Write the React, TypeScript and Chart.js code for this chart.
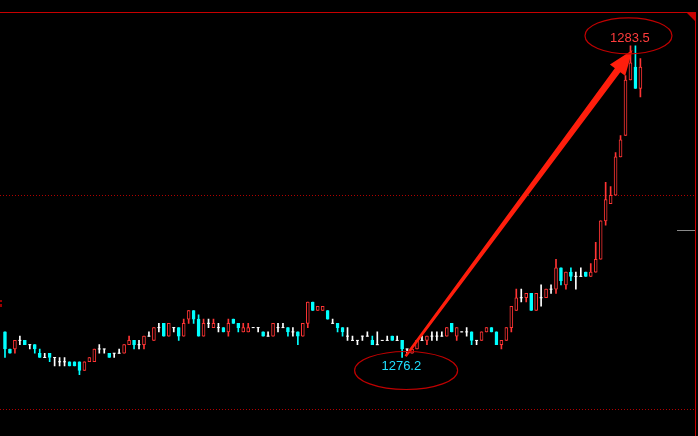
import React, { useEffect, useRef } from "react";
import { Chart, registerables } from "chart.js";

Chart.register(...registerables);

// OHLC values (one entry per candle, left to right)
const opens = [
  1276.8, 1276.4, 1276.4, 1276.6, 1276.6, 1276.5, 1276.5, 1276.3, 1276.2, 1276.3,
  1276.2, 1276.1, 1276.1, 1276.1, 1276.1, 1276.1, 1275.9, 1276.1, 1276.1, 1276.4,
  1276.4, 1276.3, 1276.3, 1276.3, 1276.3, 1276.5, 1276.6, 1276.5, 1276.5, 1276.7,
  1276.6, 1276.9, 1277.0, 1276.7, 1276.9, 1276.9, 1276.7, 1277.1, 1277.3, 1277.1,
  1276.7, 1277.0, 1276.9, 1276.9, 1276.9, 1276.8, 1277.1, 1277.0, 1276.8, 1276.8,
  1276.9, 1276.9, 1276.8, 1276.7, 1276.7, 1276.9, 1276.9, 1276.9, 1276.8, 1276.8,
  1276.7, 1277.0, 1277.5, 1277.3, 1277.3, 1277.3, 1277.0, 1277.0, 1276.9, 1276.7,
  1276.6, 1276.6, 1276.7, 1276.7, 1276.6, 1276.5, 1276.6, 1276.6, 1276.7, 1276.6,
  1276.6, 1276.4, 1276.3, 1276.4, 1276.6, 1276.6, 1276.7, 1276.7, 1276.7, 1276.7,
  1277.0, 1276.7, 1276.8, 1276.8, 1276.8, 1276.6, 1276.6, 1276.8, 1276.9, 1276.8,
  1276.5, 1276.6, 1276.9, 1277.3, 1277.6, 1277.6, 1277.7, 1277.3, 1277.6, 1277.6,
  1277.8, 1277.8, 1278.3, 1277.9, 1278.2, 1278.1, 1278.1, 1278.2, 1278.1, 1278.2,
  1278.5, 1279.4, 1279.8, 1280.0, 1280.9, 1281.4, 1282.7, 1283.0, 1282.5,
];
const highs = [
  1276.8, 1276.4, 1276.6, 1276.7, 1276.6, 1276.5, 1276.5, 1276.4, 1276.3, 1276.3,
  1276.2, 1276.2, 1276.2, 1276.1, 1276.1, 1276.1, 1276.1, 1276.2, 1276.4, 1276.5,
  1276.4, 1276.3, 1276.3, 1276.4, 1276.5, 1276.7, 1276.6, 1276.6, 1276.7, 1276.8,
  1276.9, 1277.0, 1277.0, 1277.0, 1276.9, 1276.9, 1277.1, 1277.3, 1277.3, 1277.2,
  1277.1, 1277.1, 1277.1, 1277.0, 1276.9, 1277.1, 1277.1, 1277.0, 1277.0, 1277.0,
  1276.9, 1276.9, 1276.8, 1276.8, 1277.0, 1277.0, 1277.0, 1276.9, 1276.9, 1276.8,
  1277.0, 1277.5, 1277.5, 1277.4, 1277.4, 1277.3, 1277.1, 1277.0, 1276.9, 1276.9,
  1276.7, 1276.6, 1276.7, 1276.8, 1276.7, 1276.8, 1276.6, 1276.7, 1276.7, 1276.7,
  1276.6, 1276.4, 1276.4, 1276.6, 1276.7, 1276.7, 1276.8, 1276.8, 1276.8, 1276.9,
  1277.0, 1276.9, 1276.8, 1276.9, 1276.8, 1276.6, 1276.8, 1276.9, 1276.9, 1276.8,
  1276.6, 1276.9, 1277.4, 1277.8, 1277.8, 1277.7, 1277.7, 1277.7, 1277.9, 1277.8,
  1277.9, 1278.5, 1278.3, 1278.2, 1278.3, 1278.2, 1278.3, 1278.2, 1278.4, 1278.9,
  1279.4, 1280.3, 1280.2, 1281.0, 1281.4, 1282.8, 1283.5, 1283.5, 1283.2,
];
const lows = [
  1276.2, 1276.3, 1276.3, 1276.5, 1276.5, 1276.4, 1276.3, 1276.2, 1276.2, 1276.1,
  1276.0, 1276.0, 1276.0, 1276.0, 1276.0, 1275.8, 1275.9, 1276.1, 1276.1, 1276.3,
  1276.3, 1276.2, 1276.2, 1276.3, 1276.3, 1276.5, 1276.4, 1276.4, 1276.4, 1276.7,
  1276.6, 1276.8, 1276.7, 1276.7, 1276.8, 1276.6, 1276.7, 1277.0, 1277.0, 1276.7,
  1276.7, 1276.9, 1276.9, 1276.8, 1276.8, 1276.7, 1277.0, 1276.8, 1276.8, 1276.8,
  1276.9, 1276.8, 1276.7, 1276.7, 1276.7, 1276.8, 1276.9, 1276.7, 1276.7, 1276.5,
  1276.7, 1276.9, 1277.3, 1277.3, 1277.3, 1277.1, 1277.0, 1276.8, 1276.7, 1276.6,
  1276.6, 1276.5, 1276.6, 1276.7, 1276.5, 1276.5, 1276.6, 1276.6, 1276.6, 1276.6,
  1276.2, 1276.3, 1276.3, 1276.4, 1276.6, 1276.5, 1276.6, 1276.6, 1276.7, 1276.7,
  1276.8, 1276.6, 1276.8, 1276.7, 1276.5, 1276.5, 1276.6, 1276.8, 1276.8, 1276.5,
  1276.4, 1276.6, 1276.8, 1277.3, 1277.5, 1277.5, 1277.3, 1277.3, 1277.4, 1277.6,
  1277.7, 1277.7, 1277.9, 1277.8, 1278.0, 1277.8, 1278.1, 1278.1, 1278.1, 1278.2,
  1278.5, 1279.3, 1279.8, 1280.0, 1280.9, 1281.4, 1282.7, 1282.5, 1282.3,
];
const closes = [
  1276.4, 1276.3, 1276.6, 1276.6, 1276.5, 1276.5, 1276.4, 1276.2, 1276.2, 1276.2,
  1276.2, 1276.1, 1276.1, 1276.0, 1276.0, 1275.9, 1276.1, 1276.2, 1276.4, 1276.4,
  1276.4, 1276.2, 1276.3, 1276.3, 1276.5, 1276.6, 1276.5, 1276.5, 1276.7, 1276.7,
  1276.9, 1276.9, 1276.7, 1277.0, 1276.9, 1276.7, 1277.0, 1277.3, 1277.1, 1276.7,
  1277.0, 1277.0, 1277.0, 1276.9, 1276.8, 1277.0, 1277.0, 1276.9, 1276.9, 1276.9,
  1276.9, 1276.9, 1276.7, 1276.7, 1277.0, 1276.9, 1276.9, 1276.8, 1276.8, 1276.7,
  1277.0, 1277.5, 1277.3, 1277.4, 1277.4, 1277.1, 1277.0, 1276.9, 1276.8, 1276.7,
  1276.6, 1276.6, 1276.7, 1276.7, 1276.5, 1276.5, 1276.6, 1276.6, 1276.6, 1276.6,
  1276.4, 1276.4, 1276.4, 1276.6, 1276.6, 1276.7, 1276.7, 1276.7, 1276.7, 1276.9,
  1276.8, 1276.9, 1276.8, 1276.8, 1276.6, 1276.6, 1276.8, 1276.9, 1276.8, 1276.5,
  1276.6, 1276.9, 1277.4, 1277.6, 1277.6, 1277.7, 1277.3, 1277.7, 1277.6, 1277.8,
  1277.8, 1278.3, 1278.0, 1278.2, 1278.1, 1278.1, 1278.1, 1278.1, 1278.2, 1278.5,
  1279.4, 1279.9, 1280.0, 1280.9, 1281.3, 1282.7, 1283.1, 1282.5, 1283.0,
];

const gridPrices = [1280, 1275];
const yMin = 1274.42;
const yMax = 1284.514;
const xMin = -0.5;
const xMax = 139.1;

const highLabel = "1283.5";
const lowLabel = "1276.2";
const highIndex = 126;
const highValue = 1283.5;
const lowIndex = 80;
const lowValue = 1276.2;
const currentPrice = 1279.19;

const RED = "#ff3434";
const CYAN = "#00ffff";
const WHITE = "#ffffff";
const FRAME = "#c80000";

export default function App() {
  const ref = useRef<HTMLCanvasElement>(null);

  useEffect(() => {
    document.body.style.margin = "0";
    document.body.style.background = "#000";
    const canvas = ref.current;
    if (!canvas) return;

    const idx = opens.map((_, i) => i);
    const dir = idx.map((i) => (closes[i] > opens[i] ? 1 : closes[i] < opens[i] ? -1 : 0));
    const colorOf = (d: number) => (d > 0 ? RED : d < 0 ? CYAN : WHITE);

    const wickData = idx.map((i) => ({ x: i, y: [lows[i], highs[i]] }));
    const wickColors = idx.map((i) => colorOf(dir[i]));
    const bodyIdx = idx.filter((i) => dir[i] !== 0);
    const bodyData = bodyIdx.map((i) => ({ x: i, y: [opens[i], closes[i]] }));
    const bodyFill = bodyIdx.map((i) => (dir[i] > 0 ? "#000000" : CYAN));
    const bodyBorder = bodyIdx.map((i) => colorOf(dir[i]));
    const dojiIdx = idx.filter((i) => dir[i] === 0);
    const dojiData = dojiIdx.map((i) => ({ x: i, y: opens[i] }));

    const decor = {
      id: "decor",
      beforeDraw(chart: any) {
        const ctx = chart.ctx;
        ctx.save();
        ctx.fillStyle = "#000";
        ctx.fillRect(0, 0, chart.width, chart.height);
        ctx.restore();
      },
      beforeDatasetsDraw(chart: any) {
        const ctx = chart.ctx;
        const ys = chart.scales.y;
        ctx.save();
        ctx.strokeStyle = "#b00000";
        ctx.lineWidth = 1;
        ctx.setLineDash([1, 2]);
        gridPrices.forEach((p) => {
          const y = Math.round(ys.getPixelForValue(p)) + 0.5;
          ctx.beginPath();
          ctx.moveTo(0, y);
          ctx.lineTo(695, y);
          ctx.stroke();
        });
        ctx.setLineDash([]);
        const cy = Math.round(ys.getPixelForValue(currentPrice)) + 0.5;
        ctx.strokeStyle = "#8a8a8a";
        ctx.beginPath();
        ctx.moveTo(677, cy);
        ctx.lineTo(695, cy);
        ctx.stroke();
        ctx.restore();
      },
      afterDraw(chart: any) {
        const ctx = chart.ctx;
        const xs = chart.scales.x;
        const ys = chart.scales.y;
        ctx.save();
        ctx.strokeStyle = FRAME;
        ctx.lineWidth = 1;
        ctx.beginPath();
        ctx.moveTo(0, 12.5);
        ctx.lineTo(696, 12.5);
        ctx.moveTo(695.5, 12);
        ctx.lineTo(695.5, 436);
        ctx.stroke();
        ctx.fillStyle = FRAME;
        ctx.beginPath();
        ctx.moveTo(686, 12);
        ctx.lineTo(696, 12);
        ctx.lineTo(696, 22);
        ctx.closePath();
        ctx.fill();
        ctx.fillStyle = "#9a0000";
        ctx.fillRect(0, 300, 2, 2);
        ctx.fillRect(0, 304, 2, 3);

        // arrow
        const sx = xs.getPixelForValue(lowIndex + 0.7);
        const sy = ys.getPixelForValue(lowValue + 0.03);
        const tx = xs.getPixelForValue(highIndex + 0.4);
        const ty = ys.getPixelForValue(highValue - 0.1);
        const dx = tx - sx;
        const dy = ty - sy;
        const len = Math.hypot(dx, dy);
        const ux = dx / len;
        const uy = dy / len;
        const nx = -uy;
        const ny = ux;
        const headLen = 25;
        const bx = tx - ux * headLen;
        const by = ty - uy * headLen;
        ctx.fillStyle = "#ff1e0c";
        ctx.beginPath();
        ctx.moveTo(sx + nx * 1.3, sy + ny * 1.3);
        ctx.lineTo(bx + nx * 3.4, by + ny * 3.4);
        ctx.lineTo(bx + nx * 9.5, by + ny * 9.5);
        ctx.lineTo(tx, ty);
        ctx.lineTo(bx - nx * 9.5, by - ny * 9.5);
        ctx.lineTo(bx - nx * 3.4, by - ny * 3.4);
        ctx.lineTo(sx - nx * 1.3, sy - ny * 1.3);
        ctx.closePath();
        ctx.fill();

        // ellipses
        ctx.strokeStyle = "#c00000";
        ctx.lineWidth = 1.2;
        const hx = xs.getPixelForValue(highIndex);
        const hy = ys.getPixelForValue(highValue);
        ctx.beginPath();
        ctx.ellipse(hx - 2, hy - 10, 43.5, 18, 0, 0, Math.PI * 2);
        ctx.stroke();
        const lx = xs.getPixelForValue(lowIndex);
        const ly = ys.getPixelForValue(lowValue);
        ctx.beginPath();
        ctx.ellipse(lx + 4, ly + 13, 51.5, 19, 0, 0, Math.PI * 2);
        ctx.stroke();

        ctx.font = '13px "Liberation Sans", Arial, sans-serif';
        ctx.textAlign = "center";
        ctx.textBaseline = "middle";
        ctx.fillStyle = "#ff3c3c";
        ctx.fillText(highLabel, hx - 0.5, hy - 7.5);
        ctx.fillStyle = "#20e0ff";
        ctx.fillText(lowLabel, lx - 0.8, ly + 9);
        ctx.restore();
      },
    };

    const chart = new Chart(canvas, {
      type: "bar",
      data: {
        datasets: [
          {
            type: "line",
            data: dojiData,
            showLine: false,
            pointStyle: "line",
            pointRadius: 1.5,
            pointHoverRadius: 1.5,
            pointBorderColor: WHITE,
            pointBorderWidth: 1,
            borderColor: WHITE,
            order: 1,
          } as any,
          {
            type: "bar",
            data: bodyData,
            backgroundColor: bodyFill,
            borderColor: bodyBorder,
            borderWidth: 1,
            borderSkipped: false,
            barThickness: 3,
            grouped: false,
            order: 2,
          } as any,
          {
            type: "bar",
            data: wickData,
            backgroundColor: wickColors,
            borderWidth: 0,
            barThickness: 1,
            grouped: false,
            order: 3,
          } as any,
        ],
      },
      options: {
        animation: false,
        responsive: false,
        maintainAspectRatio: false,
        events: [],
        layout: { padding: 0 },
        plugins: {
          legend: { display: false },
          tooltip: { enabled: false },
        },
        scales: {
          x: { type: "linear", min: xMin, max: xMax, display: false, offset: false },
          y: { type: "linear", min: yMin, max: yMax, display: false },
        },
      } as any,
      plugins: [decor],
    });

    return () => chart.destroy();
  }, []);

  return (
    <div style={{ position: "fixed", left: 0, top: 0, width: 698, height: 436, background: "#000" }}>
      <canvas ref={ref} width={698} height={436} style={{ display: "block", width: 698, height: 436 }} />
    </div>
  );
}
